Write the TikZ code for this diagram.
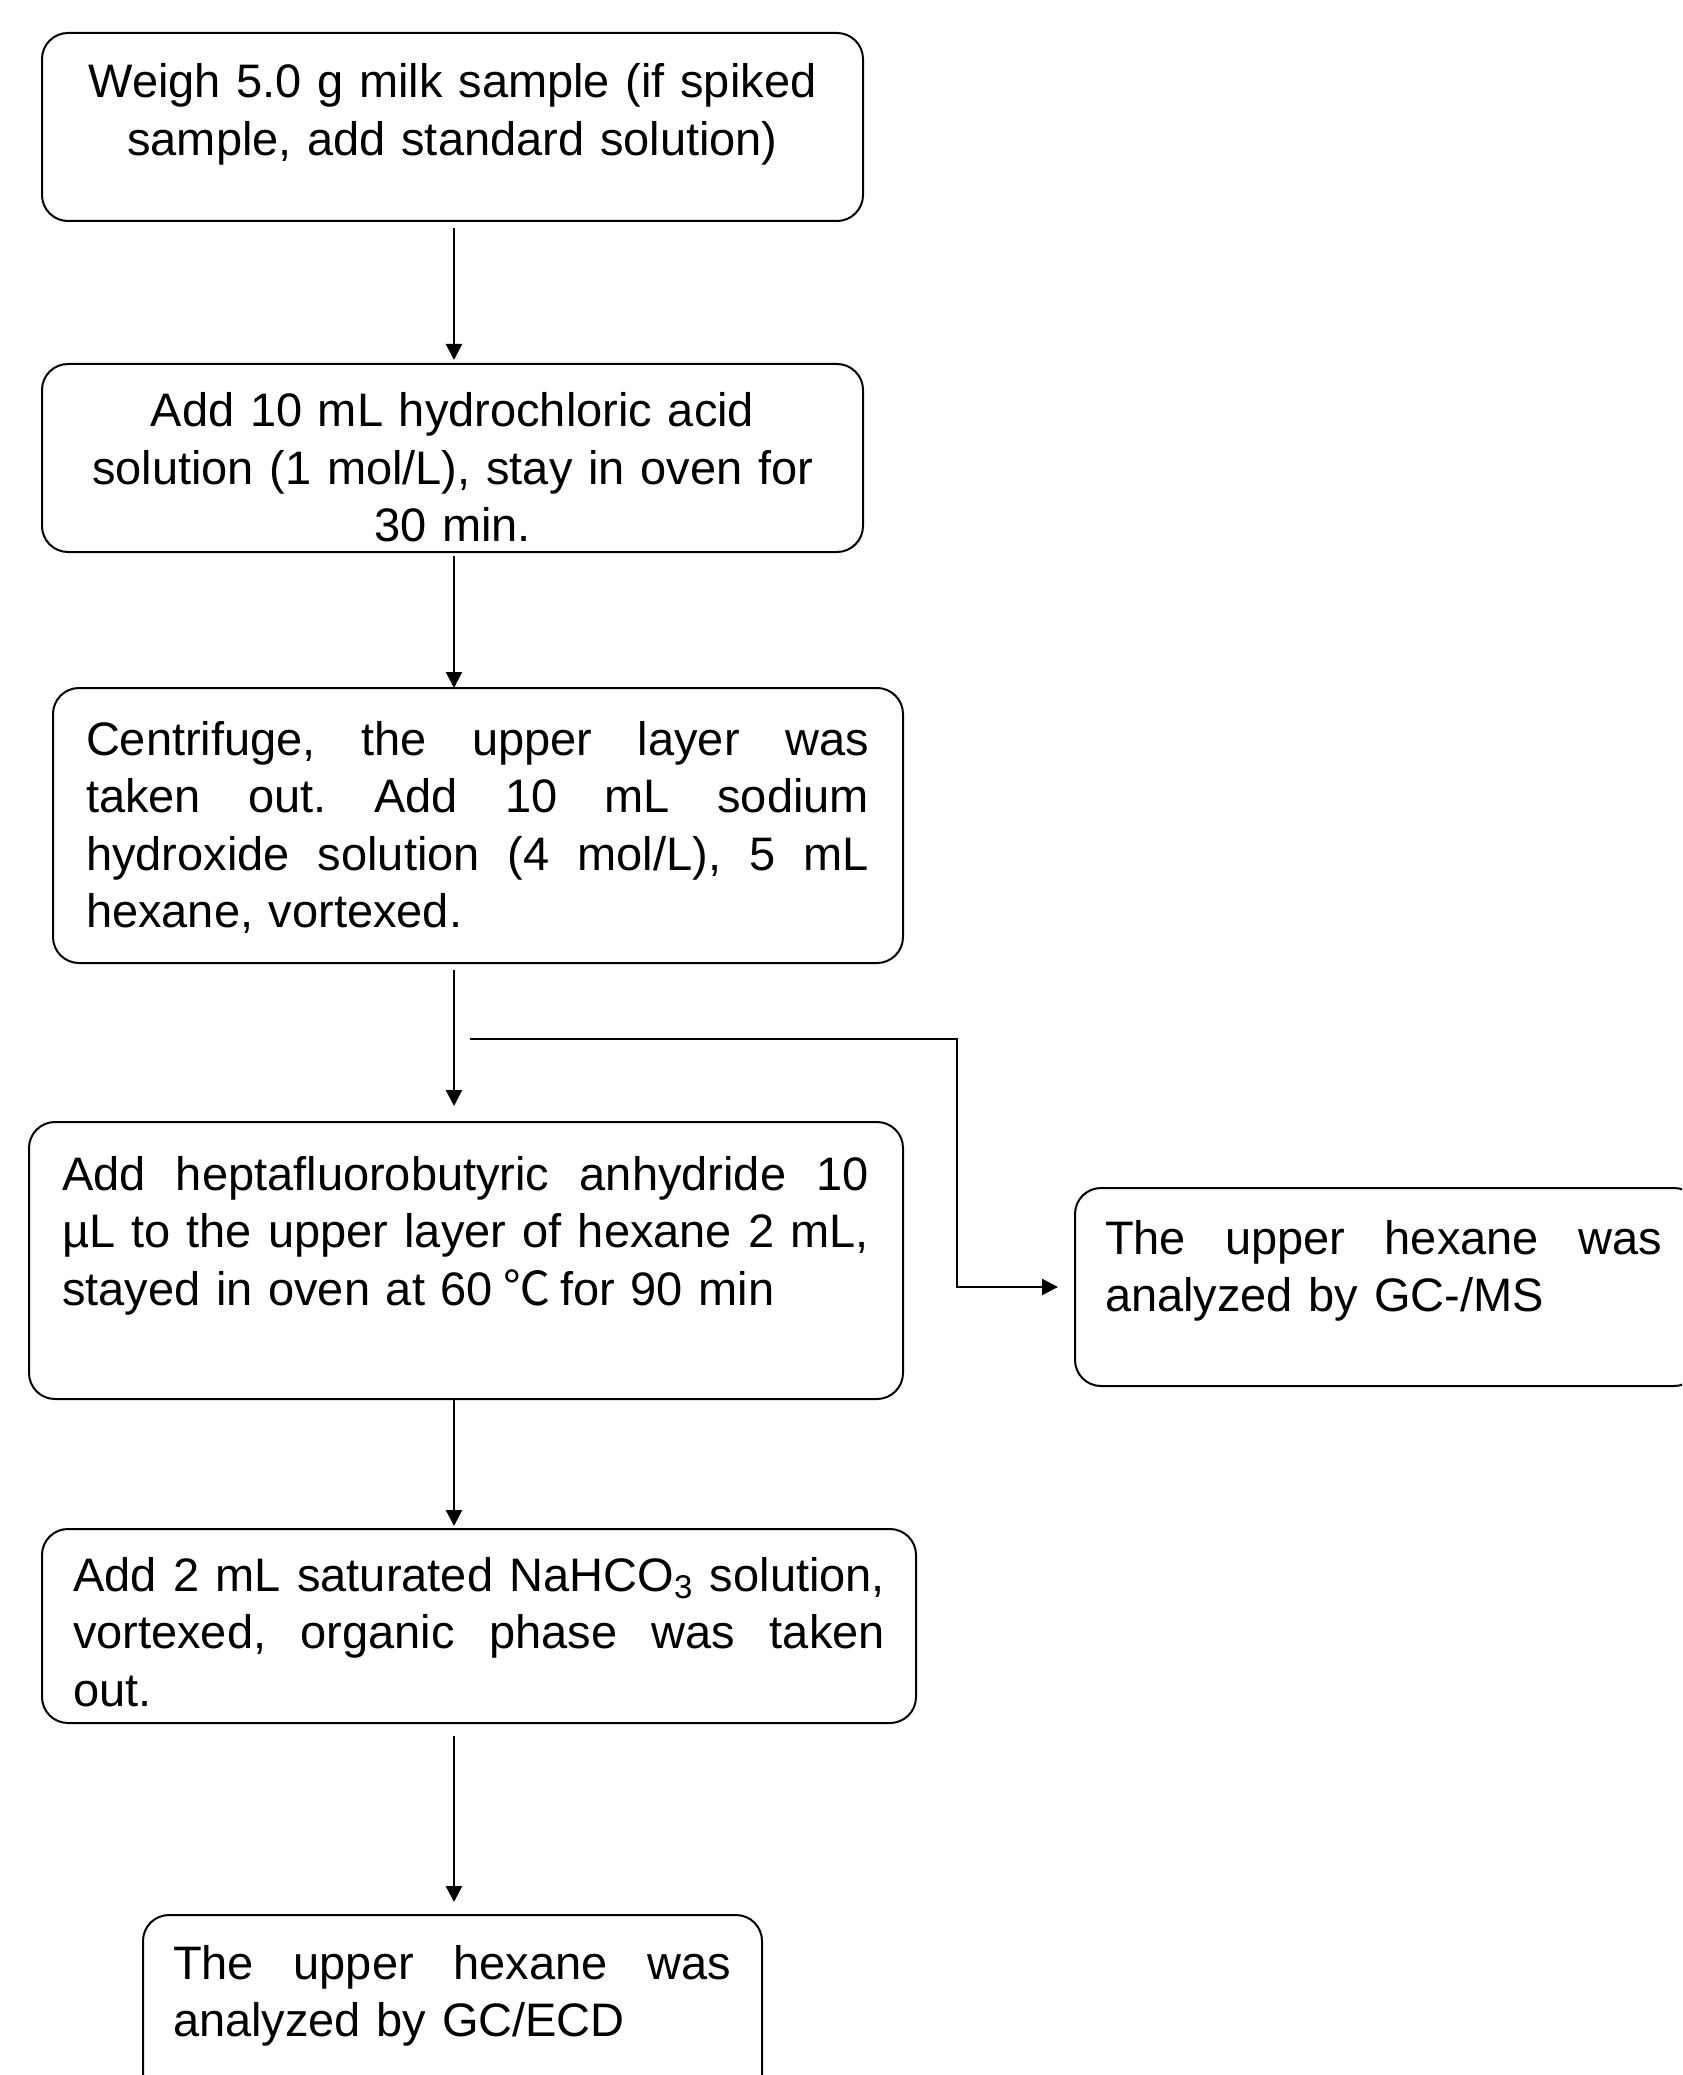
\documentclass[tikz,border=0pt]{standalone}
\usepackage{fontspec}
\setmainfont{Liberation Sans}
\newfontfamily\cjk{Noto Sans CJK SC}
\usetikzlibrary{arrows.meta}
\newcommand{\jl}[2]{\leavevmode\hbox to #1{#2}}
\newcommand{\gp}{\hfill}
\begin{document}
\begin{tikzpicture}[x=0.5pt,y=-0.5pt,
  box/.style={draw, line width=1pt, rounded corners=13pt, inner sep=0pt, outer sep=0pt, anchor=north west},
  txt/.style={inner sep=0pt, outer sep=0pt, font=\fontsize{23.5pt}{28.75pt}\selectfont},
  arr/.style={line width=1.2pt, -{Triangle[length=8pt,width=8pt]}},
  ln/.style={line width=1pt}]
\useasboundingbox (0,0) rectangle (1682,2075);
\clip (0,0) rectangle (1682,2075);
\coordinate (ax) at (454,0);
% boxes
\node[box, minimum width=410.5pt, minimum height=94pt] (b1) at (42,33) {};
\node[box, minimum width=410.5pt, minimum height=94pt] (b2) at (42,364) {};
\node[box, minimum width=425pt, minimum height=137.5pt] (b3) at (53,688) {};
\node[box, minimum width=437pt, minimum height=138.5pt] (b4) at (29,1122) {};
\node[box, minimum width=312.5pt, minimum height=99pt] (b5) at (1075,1188) {};
\node[box, minimum width=437pt, minimum height=97pt] (b6) at (42,1529) {};
\node[box, minimum width=309.5pt, minimum height=97.5pt] (b7) at (143,1915) {};
% texts
\node[txt, text width=400pt, align=center, anchor=base] (t1) at (452.5,98)
  {Weigh 5.0 g milk sample (if spiked\\ sample, add standard solution)};
\node[txt, text width=400pt, align=center, anchor=base] (t2) at (452.5,427)
  {Add 10 mL hydrochloric acid\\ solution (1 mol/L), stay in oven for\\ 30 min.};
\node[txt, text width=391.5pt, align=left, anchor=base west] (t3) at (86,755)
  {\jl{391.5pt}{Centrifuge,\gp the\gp upper\gp layer\gp was}\\
   \jl{391.5pt}{taken\gp out.\gp Add\gp 10\gp mL\gp sodium}\\
   \jl{391.5pt}{hydroxide\gp solution\gp (4\gp mol/L),\gp 5\gp mL}\\
   hexane, vortexed.};
\node[txt, text width=403.5pt, align=left, anchor=base west] (t4) at (62,1190)
  {\jl{403.5pt}{Add\gp heptafluorobutyric\gp anhydride\gp 10}\\
   \jl{403.5pt}{µL\gp to\gp the\gp upper\gp layer\gp of\gp hexane\gp 2\gp mL,}\\
   stayed in oven at 60 \hspace{-0.12em}{\cjk ℃}\hspace{-0.12em} for 90 min};
\node[txt, text width=278.5pt, align=left, anchor=base west] (t5) at (1105,1254)
  {\jl{278.5pt}{The\gp upper\gp hexane\gp was}\\ analyzed by GC-/MS};
\node[txt, text width=406pt, align=left, anchor=base west] (t6) at (73,1591)
  {\jl{406pt}{Add\gp 2\gp mL\gp saturated\gp NaHCO\textsubscript{3}\gp solution,}\\
   \jl{406pt}{vortexed,\gp organic\gp phase\gp was\gp taken}\\
   out.};
\node[txt, text width=279pt, align=left, anchor=base west] (t7) at (173,1979)
  {\jl{279pt}{The\gp upper\gp hexane\gp was}\\ analyzed by GC/ECD};
% connectors
\coordinate (br) at (470,1039);
\coordinate (bc) at (957,1039);
\draw[arr, shorten <=3.5pt, shorten >=2pt] (b1.south -| ax) -- (b2.north -| ax);
\draw[arr, shorten <=2pt] (b2.south -| ax) -- (b3.north -| ax);
\draw[arr, shorten <=3.5pt, shorten >=8pt] (b3.south -| ax) -- (b4.north -| ax);
\draw[arr, shorten >=8.5pt] (br) -- (bc) |- (b5.west);
\draw[arr, shorten >=1.5pt] (b4.south -| ax) -- (b6.north -| ax);
\draw[arr, shorten <=6.5pt, shorten >=6.5pt] (b6.south -| ax) -- (b7.north -| ax);
\end{tikzpicture}
\end{document}
